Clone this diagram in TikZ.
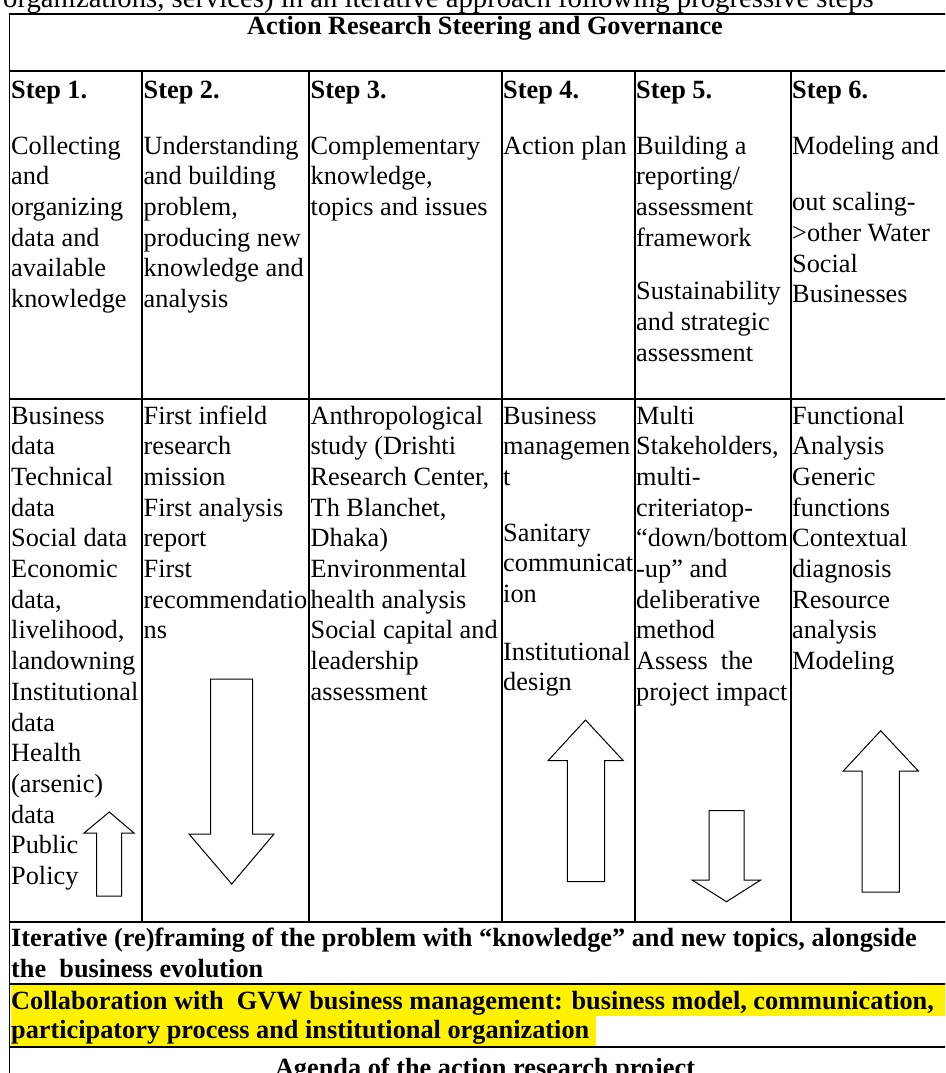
\documentclass[tikz,border=0pt]{standalone}
\usepackage{fontspec}
\setmainfont{Liberation Serif}
\begin{document}
\begin{tikzpicture}[x=1pt,y=-1pt,
  cell/.style={anchor=base west, inner sep=0pt, font=\fontsize{26.3}{30.7}\selectfont},
  bcell/.style={anchor=base west, inner sep=0pt, font=\fontsize{26.3}{30.7}\selectfont\bfseries},
  ctitle/.style={anchor=base, inner sep=0pt, font=\fontsize{26.3}{30.7}\selectfont\bfseries},
  toptext/.style={anchor=base west, inner sep=0pt, font=\fontsize{28.7}{33}\selectfont},
  hline/.style={line width=1.6pt},
  vline/.style={line width=1.2pt},
  blockarrow/.style={draw, line width=1pt, fill=white, line join=miter},
  hilite/.style={fill=yellow}]
\useasboundingbox (0,0) rectangle (945,1073);
\clip (0,0) rectangle (945,1073);

% top (cut) text
\node[toptext] (top) at (3,8) {organizations, services) in an iterative approach following progressive steps};

% yellow highlight
\fill[hilite] (10.5,985) rectangle (961,1015.5);
\fill[hilite] (10.5,1015.5) rectangle (596,1046.5);

% horizontal lines
\draw[hline] (9.5,14) -- (961,14);
\draw[hline] (9.5,71) -- (961,71);
\draw[hline] (9.5,399) -- (961,399);
\draw[hline] (9.5,922) -- (961,922);
\draw[hline] (9.5,984) -- (961,984);
\draw[hline] (9.5,1047) -- (961,1047);
% outer verticals
\draw[hline] (9.5,13.2) -- (9.5,1080);
\draw[hline] (961,13.2) -- (961,1080);
% column lines
\foreach \cx in {142,309,502,635,791} {
  \draw[vline] (\cx,71) -- (\cx,922);
}

% header
\node[ctitle] (hdr) at (485,35) {Action Research Steering and Governance};

% step titles
\node[bcell] (s1) at (11,98) {Step 1.};
\node[bcell] (s2) at (143.5,98) {Step 2.};
\node[bcell] (s3) at (310.5,98) {Step 3.};
\node[bcell] (s4) at (503,98) {Step 4.};
\node[bcell] (s5) at (636,98) {Step 5.};
\node[bcell] (s6) at (792,98) {Step 6.};

% step descriptions
\node[cell] (d1) at (11,154) {\begin{tabular}[t]{@{}l@{}}Collecting\\and\\organizing\\data and\\available\\knowledge\end{tabular}};
\node[cell] (d2) at (143.5,154) {\begin{tabular}[t]{@{}l@{}}Understanding\\and building\\problem,\\producing new\\knowledge and\\analysis\end{tabular}};
\node[cell] (d3) at (310.5,154) {\begin{tabular}[t]{@{}l@{}}Complementary\\knowledge,\\topics and issues\end{tabular}};
\node[cell] (d4) at (503,154) {\begin{tabular}[t]{@{}l@{}}Action plan\end{tabular}};
\node[cell] (d5) at (636,154) {\begin{tabular}[t]{@{}l@{}}Building a\\reporting/\\assessment\\framework\\[23pt]Sustainability\\and strategic\\assessment\end{tabular}};
\node[cell] (d6) at (792,154) {\begin{tabular}[t]{@{}l@{}}Modeling and\\[26pt]out scaling-\\>other Water\\Social\\Businesses\end{tabular}};

% details
\node[cell] (e1) at (11,424) {\begin{tabular}[t]{@{}l@{}}Business\\data\\Technical\\data\\Social data\\Economic\\data,\\livelihood,\\landowning\\Institutional\\data\\Health\\(arsenic)\\data\\Public\\Policy\end{tabular}};
\node[cell] (e2) at (143.5,424) {\begin{tabular}[t]{@{}l@{}}First infield\\research\\mission\\First analysis\\report\\First\\recommendatio\\ns\end{tabular}};
\node[cell] (e3) at (310.5,424) {\begin{tabular}[t]{@{}l@{}}Anthropological\\study (Drishti\\Research Center,\\Th Blanchet,\\Dhaka)\\Environmental\\health analysis\\Social capital and\\leadership\\assessment\end{tabular}};
\node[cell] (e4) at (503,424) {\begin{tabular}[t]{@{}l@{}}Business\\managemen\\t\\[25pt]Sanitary\\communicat\\ion\\[27pt]Institutional\\design\end{tabular}};
\node[cell] (e5) at (636,424) {\begin{tabular}[t]{@{}l@{}}Multi\\Stakeholders,\\multi-\\criteriatop-\\“down/bottom\\-up” and\\deliberative\\method\\Assess\ \ the\\project impact\end{tabular}};
\node[cell] (e6) at (792,424) {\begin{tabular}[t]{@{}l@{}}Functional\\Analysis\\Generic\\functions\\Contextual\\diagnosis\\Resource\\analysis\\Modeling\end{tabular}};

% block arrows
\draw[blockarrow] (96.7,896) -- (96.7,833) -- (84,833) -- (109.3,812) -- (134,833) -- (121.7,833) -- (121.7,896) -- cycle;
\draw[blockarrow] (210.7,679) -- (252.7,679) -- (252.7,834) -- (274,834) -- (231.7,884) -- (189,834) -- (210.7,834) -- cycle;
\draw[blockarrow] (567.3,881.7) -- (567.3,760.7) -- (548,760.7) -- (585.5,720) -- (623.3,760.7) -- (604.7,760.7) -- (604.7,881.7) -- cycle;
\draw[blockarrow] (709,810.7) -- (744,810.7) -- (744,880) -- (760.7,880) -- (726.5,901.7) -- (692,880) -- (709,880) -- cycle;
\draw[blockarrow] (862,892) -- (862,771) -- (843.3,771) -- (880.7,730.7) -- (918.3,771) -- (899.3,771) -- (899.3,892) -- cycle;

% bottom rows
\node[bcell] (it) at (11,946.7) {\begin{tabular}[t]{@{}l@{}}Iterative (re)framing of the problem with “knowledge” and new topics, alongside\\the\ \ business evolution\end{tabular}};
\node[bcell] (co) at (11,1009) {\begin{tabular}[t]{@{}l@{}}Collaboration with\ \ GVW business management: business model, communication,\\[-1.7pt]participatory process and institutional organization\end{tabular}};
\node[ctitle] (ag) at (485,1076) {Agenda of the action research project};
\end{tikzpicture}
\end{document}
